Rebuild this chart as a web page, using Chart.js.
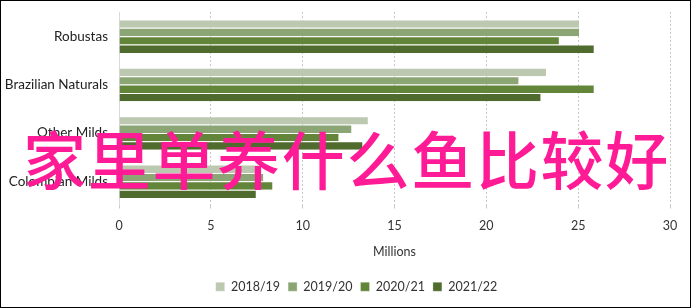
<!DOCTYPE html>
<html>
<head>
<meta charset="utf-8">
<script src="https://cdn.jsdelivr.net/npm/chart.js@4/dist/chart.umd.min.js"></script>
<style>
  html, body { margin: 0; padding: 0; background: #fff; }
  #wrap { position: relative; width: 689px; height: 306px; border: 1px solid #000; }
  #overlay {
    position: absolute; left: 22px; top: 124px;
    font-family: "Noto Sans CJK SC", sans-serif; font-size: 63px; font-weight: 500;
    color: #ff1a96; letter-spacing: 1.7px; white-space: nowrap; line-height: 1;
  }
</style>
</head>
<body>
<div id="wrap">
  <canvas id="myChart" width="689" height="306"></canvas>
  <div id="overlay">家里单养什么鱼比较好</div>
</div>
<script>
// categories and series (millions)
var categories = ['Robustas', 'Brazilian Naturals', 'Other Milds', 'Colombian Milds'];
var seasons = ['2018/19', '2019/20', '2020/21', '2021/22'];
var s2018 = [25.1, 23.3, 13.6, 7.8];
var s2019 = [25.1, 21.8, 12.7, 7.9];
var s2020 = [24.0, 25.9, 12.0, 8.4];
var s2021 = [25.9, 23.0, 13.3, 7.5];
var xTicks = [0, 5, 10, 15, 20, 25, 30];

var colors = ['#bdc8b1', '#8ca574', '#62853a', '#4f6b2e'];
var values = [s2018, s2019, s2020, s2021];

// nudge the legend a bit right of the canvas centre, like the original
var legendShift = {
    id: 'legendShift',
    afterUpdate: function (chart) {
        chart.legend.left += 21;
        chart.legend.right += 21;
        chart.legend.adjustHitBoxes();
    }
};

var ctx = document.getElementById('myChart').getContext('2d');
var myChart = new Chart(ctx, {
    type: 'bar',
    data: {
        labels: categories,
        datasets: seasons.map(function (s, i) {
            return {
                label: s,
                data: values[i],
                backgroundColor: colors[i],
                borderColor: 'rgba(255,255,255,0.6)',
                borderWidth: { top: 1, bottom: 0, left: 0, right: 1 },
                borderSkipped: 'left',
                barPercentage: 1.0,
                categoryPercentage: 0.69
            };
        })
    },
    options: {
        indexAxis: 'y',
        responsive: false,
        animation: false,
        layout: { padding: { top: 11, right: 20, left: 0, bottom: 4 } },
        scales: {
            x: {
                min: 0,
                max: 30,
                afterBuildTicks: function (axis) {
                    axis.ticks = xTicks.map(function (v) { return { value: v }; });
                },
                grid: { color: '#c8c8c8', lineWidth: 1, tickLength: 3, drawTicks: true, tickColor: '#c8c8c8' },
                border: { display: false, dash: [2, 2] },
                ticks: { color: '#333', font: { family: 'Lato', size: 12.5 }, padding: 10 },
                title: { display: true, text: 'Millions', color: '#333', font: { family: 'Lato', size: 12.5 }, padding: { top: 1, bottom: 13 } }
            },
            y: {
                grid: { display: false, drawTicks: false },
                border: { display: true, color: '#d9d9d9', width: 1 },
                ticks: { color: '#222', font: { family: 'Lato', size: 13.5 }, padding: 11 },
                afterFit: function (axis) {
                    axis.width = 118;
                    axis.paddingTop = 0;
                    axis.paddingBottom = 0;
                }
            }
        },
        plugins: {
            legend: {
                position: 'bottom',
                labels: { boxWidth: 9, boxHeight: 9, padding: 8, color: '#333', font: { family: 'Lato', size: 12.5 } }
            },
            tooltip: { enabled: false }
        }
    },
    plugins: [legendShift]
});
</script>
</body>
</html>
